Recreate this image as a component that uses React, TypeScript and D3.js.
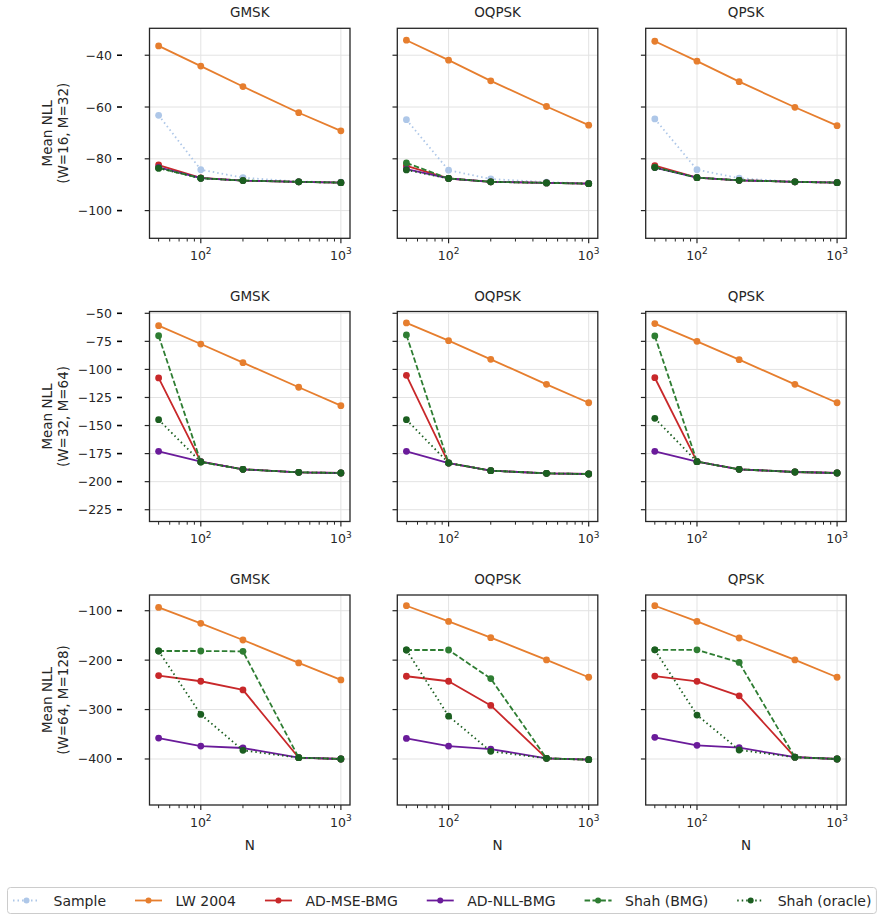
import * as d3 from 'd3';
import { useEffect, useRef } from 'react';

const N = [50, 100, 200, 500, 1000];
const modulations = ['GMSK', 'OQPSK', 'QPSK'];
const configLabels = ['(W=16, M=32)', '(W=32, M=64)', '(W=64, M=128)'];
const yTickValues = [
  [-40, -60, -80, -100],
  [-50, -75, -100, -125, -150, -175, -200, -225],
  [-100, -200, -300, -400],
];
const yLimits = [
  [-110.7, -29.6],
  [-235.5, -48.4],
  [-493.1, -68.2],
];

// values[row][column], rows = configs, columns = modulations
const sampleVals: (number[][] | null)[] = [
  [
    [-63.2, -84.2, -87.3, -88.8, -89.0],
    [-64.9, -84.4, -87.8, -89.0, -89.5],
    [-64.6, -84.2, -87.5, -88.9, -89.1],
  ],
  null,
  null,
];
const lwVals = [
  [
    [-36.4, -44.2, -52.1, -62.2, -69.2],
    [-34.2, -41.9, -49.9, -59.8, -67.0],
    [-34.6, -42.3, -50.2, -60.1, -67.2],
  ],
  [
    [-61.0, -77.4, -94.0, -115.9, -132.3],
    [-58.6, -74.4, -91.0, -113.3, -129.7],
    [-59.2, -75.0, -91.3, -113.3, -129.7],
  ],
  [
    [-93.3, -125.6, -159.2, -205.6, -240.0],
    [-89.9, -121.6, -154.5, -199.6, -234.6],
    [-89.9, -121.6, -155.2, -199.6, -234.6],
  ],
];
const mseVals = [
  [
    [-82.4, -87.4, -88.4, -88.9, -89.2],
    [-82.7, -87.6, -88.9, -89.3, -89.6],
    [-82.6, -87.3, -88.3, -88.9, -89.2],
  ],
  [
    [-107.6, -182.2, -189.0, -191.7, -192.3],
    [-105.3, -183.4, -190.2, -192.6, -193.2],
    [-107.4, -182.2, -189.0, -191.4, -192.3],
  ],
  [
    [-231.2, -242.7, -260.2, -397.4, -400.0],
    [-232.6, -242.7, -291.7, -398.7, -401.4],
    [-232.3, -242.8, -272.2, -396.4, -400.0],
  ],
];
const nllVals = [
  [
    [-83.3, -87.5, -88.4, -88.9, -89.2],
    [-84.0, -87.6, -88.9, -89.3, -89.6],
    [-83.4, -87.3, -88.3, -88.9, -89.2],
  ],
  [
    [-173.0, -182.2, -189.0, -191.7, -192.3],
    [-173.0, -183.4, -190.2, -192.6, -193.2],
    [-173.0, -182.2, -189.0, -191.4, -192.3],
  ],
  [
    [-357.7, -373.8, -377.8, -397.4, -400.0],
    [-358.3, -373.8, -379.9, -398.7, -401.4],
    [-356.2, -372.4, -377.1, -396.4, -400.0],
  ],
];
const shahBmgVals = [
  [
    [-83.6, -87.5, -88.4, -88.9, -89.2],
    [-81.6, -87.6, -88.9, -89.3, -89.6],
    [-83.2, -87.3, -88.3, -88.9, -89.2],
  ],
  [
    [-70.0, -182.5, -189.0, -191.7, -192.3],
    [-69.3, -183.4, -190.2, -192.6, -193.2],
    [-70.2, -182.2, -189.0, -191.4, -192.3],
  ],
  [
    [-181.5, -181.5, -182.2, -397.4, -400.0],
    [-179.5, -179.5, -237.3, -398.7, -401.4],
    [-179.2, -179.2, -204.7, -396.4, -400.0],
  ],
];
const shahOracleVals = [
  [
    [-83.6, -87.5, -88.4, -88.9, -89.2],
    [-84.3, -87.6, -88.9, -89.3, -89.6],
    [-83.4, -87.3, -88.3, -88.9, -89.2],
  ],
  [
    [-144.8, -182.5, -189.0, -191.7, -192.3],
    [-144.8, -183.4, -190.2, -192.6, -193.2],
    [-143.6, -182.2, -189.0, -191.4, -192.3],
  ],
  [
    [-181.5, -309.8, -382.5, -397.4, -400.0],
    [-179.5, -313.3, -384.5, -398.7, -401.4],
    [-179.2, -311.1, -381.8, -396.4, -400.0],
  ],
];

const seriesNames = ['Sample', 'LW 2004', 'AD-MSE-BMG', 'AD-NLL-BMG', 'Shah (BMG)', 'Shah (oracle)'];
const seriesData = [sampleVals, lwVals, mseVals, nllVals, shahBmgVals, shahOracleVals];

// styling per series
const seriesStyle = [
  { color: '#aec7e8', dash: '1.5,3' },
  { color: '#e67e2e', dash: null },
  { color: '#c8282a', dash: null },
  { color: '#6a1b9a', dash: null },
  { color: '#2e7d32', dash: '5.5,2.4' },
  { color: '#1b5e20', dash: '1.5,3' },
];

export default function App() {
  const ref = useRef<SVGSVGElement | null>(null);

  useEffect(() => {
    if (!ref.current) return;
    const svg = d3.select(ref.current);
    svg.selectAll('*').remove();

    const font = 'DejaVu Sans, sans-serif';
    const ink = '#262626';
    const panelLeft = [149.5, 397.3, 645.7];
    const panelTop = [28.3, 311.5, 595];
    const pw = 200.5;
    const ph = 210;

    const pad = 0.05 * Math.log10(N[N.length - 1] / N[0]);
    const x = d3
      .scaleLog()
      .domain([N[0] / Math.pow(10, pad), N[N.length - 1] * Math.pow(10, pad)])
      .range([0, pw]);
    const [xlo, xhi] = x.domain();
    const minorTicks = x.ticks().filter((t) => t >= xlo && t <= xhi && ![100, 1000].includes(t));
    const majorTicks = [100, 1000];

    svg.append('rect').attr('width', 887).attr('height', 921).attr('fill', '#fff');

    configLabels.forEach((cfg, r) => {
      const y = d3.scaleLinear().domain(yLimits[r]).range([ph, 0]);

      modulations.forEach((mod, c) => {
        const g = svg.append('g').attr('transform', `translate(${panelLeft[c]},${panelTop[r]})`);

        // grid
        g.selectAll('line.gy')
          .data(yTickValues[r])
          .enter()
          .append('line')
          .attr('x1', 0)
          .attr('x2', pw)
          .attr('y1', (d) => y(d))
          .attr('y2', (d) => y(d))
          .attr('stroke', '#e3e3e3')
          .attr('stroke-width', 1);
        g.selectAll('line.gx')
          .data(majorTicks)
          .enter()
          .append('line')
          .attr('x1', (d) => x(d))
          .attr('x2', (d) => x(d))
          .attr('y1', 0)
          .attr('y2', ph)
          .attr('stroke', '#e3e3e3')
          .attr('stroke-width', 1);

        // series
        seriesData.forEach((sd, s) => {
          const rowData = sd[r];
          if (!rowData) return;
          const vals = rowData[c];
          const st = seriesStyle[s];
          const pts = N.map((n, i) => [n, vals[i]] as [number, number]);
          const line = d3
            .line<[number, number]>()
            .x((d) => x(d[0]))
            .y((d) => y(d[1]));
          g.append('path')
            .attr('d', line(pts))
            .attr('fill', 'none')
            .attr('stroke', st.color)
            .attr('stroke-width', 1.8)
            .attr('stroke-dasharray', st.dash)
            .attr('stroke-linejoin', 'round');
          g.selectAll(`circle.s${s}`)
            .data(pts)
            .enter()
            .append('circle')
            .attr('cx', (d) => x(d[0]))
            .attr('cy', (d) => y(d[1]))
            .attr('r', 3.4)
            .attr('fill', st.color);
        });

        // spines
        g.append('rect')
          .attr('width', pw)
          .attr('height', ph)
          .attr('fill', 'none')
          .attr('stroke', ink)
          .attr('stroke-width', 1.3);

        // x ticks
        g.selectAll('line.xmin')
          .data(minorTicks)
          .enter()
          .append('line')
          .attr('x1', (d) => x(d))
          .attr('x2', (d) => x(d))
          .attr('y1', ph)
          .attr('y2', ph + 3.2)
          .attr('stroke', ink)
          .attr('stroke-width', 1);
        g.selectAll('line.xmaj')
          .data(majorTicks)
          .enter()
          .append('line')
          .attr('x1', (d) => x(d))
          .attr('x2', (d) => x(d))
          .attr('y1', ph)
          .attr('y2', ph + 5)
          .attr('stroke', ink)
          .attr('stroke-width', 1.2);
        majorTicks.forEach((t) => {
          const txt = g
            .append('text')
            .attr('x', x(t))
            .attr('y', ph + 21.7)
            .attr('text-anchor', 'middle')
            .attr('font-family', font)
            .attr('font-size', 12.5)
            .attr('fill', ink);
          txt.append('tspan').text('10');
          txt
            .append('tspan')
            .attr('dy', -5.5)
            .attr('font-size', 9)
            .text(String(Math.round(Math.log10(t))));
        });

        // y ticks
        g.selectAll('line.ytk')
          .data(yTickValues[r])
          .enter()
          .append('line')
          .attr('x1', -4.8)
          .attr('x2', 0)
          .attr('y1', (d) => y(d))
          .attr('y2', (d) => y(d))
          .attr('stroke', ink)
          .attr('stroke-width', 1.2);

        if (c === 0) {
          g.selectAll('text.ytl')
            .data(yTickValues[r])
            .enter()
            .append('text')
            .attr('x', -37.5)
            .attr('y', (d) => y(d) + 4.5)
            .attr('text-anchor', 'end')
            .attr('font-family', font)
            .attr('font-size', 12.5)
            .attr('fill', ink)
            .text((d) => String(d).replace('-', '\u2212'));
          g.selectAll('line.ydash')
            .data(yTickValues[r])
            .enter()
            .append('line')
            .attr('x1', -32.5)
            .attr('x2', -27.5)
            .attr('y1', (d) => y(d))
            .attr('y2', (d) => y(d))
            .attr('stroke', '#000')
            .attr('stroke-width', 1.6);

          const yl = g
            .append('text')
            .attr('transform', `translate(${-97.5},${ph / 2}) rotate(-90)`)
            .attr('text-anchor', 'middle')
            .attr('font-family', font)
            .attr('font-size', 13.5)
            .attr('fill', ink);
          yl.append('tspan').attr('x', 0).attr('y', 0).text('Mean NLL');
          yl.append('tspan').attr('x', 0).attr('y', 15.5).text(cfg);
        }

        g.append('text')
          .attr('x', pw / 2)
          .attr('y', -11)
          .attr('text-anchor', 'middle')
          .attr('font-family', font)
          .attr('font-size', 13.5)
          .attr('fill', ink)
          .text(mod);

        if (r === configLabels.length - 1) {
          g.append('text')
            .attr('x', pw / 2)
            .attr('y', ph + 45)
            .attr('text-anchor', 'middle')
            .attr('font-family', font)
            .attr('font-size', 13.5)
            .attr('fill', ink)
            .text('N');
        }
      });
    });

    // Legend
    const legend = svg.append('g');
    const box = legend
      .append('rect')
      .attr('x', 7.5)
      .attr('y', 887.5)
      .attr('height', 26)
      .attr('rx', 3)
      .attr('fill', '#fff')
      .attr('stroke', '#cccccc')
      .attr('stroke-width', 1);
    const cy = 900.5;
    const colGap = 29;
    let cx = 13;
    seriesNames.forEach((name, s) => {
      const st = seriesStyle[s];
      legend
        .append('line')
        .attr('x1', cx)
        .attr('x2', cx + 27)
        .attr('y1', cy)
        .attr('y2', cy)
        .attr('stroke', st.color)
        .attr('stroke-width', 1.8)
        .attr('stroke-dasharray', st.dash);
      legend
        .append('circle')
        .attr('cx', cx + 13.5)
        .attr('cy', cy)
        .attr('r', 3)
        .attr('fill', st.color);
      const t = legend
        .append('text')
        .attr('x', cx + 40.5)
        .attr('y', cy + 5)
        .attr('font-family', font)
        .attr('font-size', 14)
        .attr('fill', ink)
        .text(name);
      const w = (t.node() as SVGTextElement).getComputedTextLength();
      cx = cx + 40.5 + w + colGap;
    });
    box.attr('width', cx - colGap + 5 - 7.5);
  }, []);

  return (
    <svg
      ref={ref}
      width={887}
      height={921}
      style={{ position: 'absolute', left: 0, top: 0 }}
      role="img"
      aria-label="Mean NLL versus N"
    />
  );
}
